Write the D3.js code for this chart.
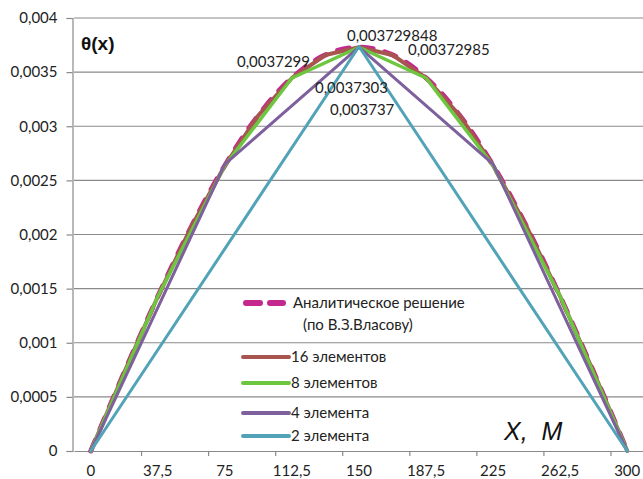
<!DOCTYPE html>
<html>
<head>
<meta charset="utf-8">
<script src="https://cdn.jsdelivr.net/npm/d3@7"></script>
<style>
  html, body { margin: 0; padding: 0; background: #fff; }
  svg { display: block; font-family: Lato, "Open Sans", sans-serif; }
</style>
</head>
<body>
<svg id="chart" width="643" height="479"></svg>
<script>
// Node coordinates along the bar, m
const xAnalytic = [0, 18.75, 37.5, 56.25, 75, 93.75, 112.5, 131.25, 150, 168.75, 187.5, 206.25, 225, 243.75, 262.5, 281.25, 300];
const x16 = xAnalytic;
const x8 = [0, 37.5, 75, 112.5, 150, 187.5, 225, 262.5, 300];
const x4 = [0, 75, 150, 225, 300];
const x2 = [0, 150, 300];

// θ(x) values for each solution
const yAnalytic = [0, 0.000729, 0.001428, 0.002073, 0.002638, 0.003102, 0.003447, 0.003659, 0.003729848, 0.003659, 0.003447, 0.003102, 0.002638, 0.002073, 0.001428, 0.000729, 0];
const y16 = [0, 0.000728, 0.001427, 0.002072, 0.002637, 0.003101, 0.003446, 0.003658, 0.00372985, 0.003658, 0.003446, 0.003101, 0.002637, 0.002072, 0.001427, 0.000728, 0];
const y8 = [0, 0.001427, 0.002637, 0.003446, 0.0037299, 0.003446, 0.002637, 0.001427, 0];
const y4 = [0, 0.00265, 0.0037303, 0.00265, 0];
const y2 = [0, 0.003737, 0];

// Axis ticks
const xTickLabels = [0, 37.5, 75, 112.5, 150, 187.5, 225, 262.5, 300];
const yTickValues = [0, 0.0005, 0.001, 0.0015, 0.002, 0.0025, 0.003, 0.0035, 0.004];

const legendNames = ["Аналитическое решение", "16 элементов", "8 элементов", "4 элемента", "2 элемента"];
const legendSub = "(по В.З.Власову)";

const svg = d3.select("#chart");
const comma = v => String(v).replace(".", ",");
const FS = 15;

// Category-style x scale: half a step of padding on each side
const step = 18.75;
const x = d3.scaleLinear().domain([-step / 2, 300 + step / 2]).range([74, 644]);
const y = d3.scaleLinear().domain([0, 0.004]).range([451, 18]);

// Horizontal gridlines
svg.append("g")
  .selectAll("line")
  .data(yTickValues.slice(1))
  .join("line")
  .attr("x1", x.range()[0]).attr("x2", x.range()[1])
  .attr("y1", d => y(d)).attr("y2", d => y(d))
  .attr("stroke", "#8a8a8a").attr("stroke-width", 1.2);

// Y axis
const yAxis = svg.append("g")
  .attr("transform", `translate(${x.range()[0] - 1.5},0)`)
  .call(d3.axisLeft(y).tickValues(yTickValues).tickFormat(comma).tickSize(6).tickPadding(9));
yAxis.select(".domain").attr("stroke", "#8a8a8a").attr("stroke-width", 1.2);
yAxis.selectAll(".tick line").attr("stroke", "#8a8a8a").attr("stroke-width", 1.2);
yAxis.selectAll("text").attr("font-family", "Lato").attr("font-size", FS).attr("fill", "#222");

// X axis: tick marks between every second node, labels at the nodes
const boundaries = d3.range(1, 9).map(k => 37.5 * k - step / 2);
const xAxis = svg.append("g")
  .attr("transform", `translate(0,${y(0)})`)
  .call(d3.axisBottom(x).tickValues(boundaries).tickFormat("").tickSize(5).tickSizeOuter(0));
xAxis.select(".domain").attr("stroke", "#8a8a8a").attr("stroke-width", 1.2);
xAxis.selectAll(".tick line").attr("stroke", "#8a8a8a").attr("stroke-width", 1.2);

svg.append("g")
  .selectAll("text")
  .data(xTickLabels)
  .join("text")
  .attr("x", d => x(d)).attr("y", y(0) + 25)
  .attr("text-anchor", "middle")
  .attr("font-size", FS).attr("fill", "#222")
  .text(comma);

// Series
const series = [
  { xs: xAnalytic, ys: yAnalytic, color: "#c4288f", width: 5, dash: "12 12", curve: d3.curveCatmullRom },
  { xs: x16, ys: y16, color: "#a85550", width: 4, curve: d3.curveLinear },
  { xs: x8, ys: y8, color: "#6cc63e", width: 3.5, curve: d3.curveLinear },
  { xs: x4, ys: y4, color: "#7d609c", width: 3, curve: d3.curveLinear },
  { xs: x2, ys: y2, color: "#52a3b8", width: 3, curve: d3.curveLinear }
];

series.forEach(s => {
  const pts = s.xs.map((xv, i) => [xv, s.ys[i]]);
  svg.append("path")
    .datum(pts)
    .attr("fill", "none")
    .attr("stroke", s.color)
    .attr("stroke-width", s.width)
    .attr("stroke-linecap", "round")
    .attr("stroke-linejoin", "round")
    .attr("stroke-dasharray", s.dash || null)
    .attr("d", d3.line().x(d => x(d[0])).y(d => y(d[1])).curve(s.curve));
});

// Peak value labels (value at x = 150 for each series)
const peakLabels = [
  { xs: xAnalytic, ys: yAnalytic, dx: -12, dy: -6 },
  { xs: x16, ys: y16, dx: 49, dy: 8 },
  { xs: x8, ys: y8, dx: -122, dy: 20 },
  { xs: x4, ys: y4, dx: -44, dy: 46 },
  { xs: x2, ys: y2, dx: -29, dy: 69 }
];
peakLabels.forEach(p => {
  const i = p.xs.indexOf(150);
  svg.append("text")
    .attr("x", x(p.xs[i]) + p.dx)
    .attr("y", y(p.ys[i]) + p.dy)
    .attr("font-size", FS).attr("fill", "#222")
    .text(comma(p.ys[i]));
});

// Axis titles
svg.append("text")
  .attr("x", 81).attr("y", 50)
  .attr("font-family", "Liberation Sans, Arial, sans-serif")
  .attr("font-weight", "bold").attr("font-size", 19).attr("fill", "#111")
  .text("θ(x)");

svg.append("text")
  .attr("x", 504).attr("y", 440)
  .attr("font-family", "Liberation Sans, Arial, sans-serif")
  .attr("font-style", "italic").attr("font-size", 25).attr("fill", "#111")
  .attr("xml:space", "preserve")
  .text("X,  M");

// Legend
const legendRows = [303, 357, 383, 413, 436];
const lg = svg.append("g");
series.forEach((s, i) => {
  const ly = legendRows[i];
  lg.append("line")
    .attr("x1", i === 0 ? 246 : 243).attr("x2", i === 0 ? 283 : 289)
    .attr("y1", ly).attr("y2", ly)
    .attr("stroke", s.color)
    .attr("stroke-width", i === 0 ? 6 : 4)
    .attr("stroke-linecap", "round")
    .attr("stroke-dasharray", i === 0 ? "14 10" : null);
  lg.append("text")
    .attr("x", i === 0 ? 293 : 291).attr("y", ly).attr("dy", "0.36em")
    .attr("font-size", FS).attr("fill", "#222")
    .text(legendNames[i]);
});
lg.append("text")
  .attr("x", 303).attr("y", 325).attr("dy", "0.36em")
  .attr("font-size", FS).attr("fill", "#222")
  .text(legendSub);
</script>
</body>
</html>
